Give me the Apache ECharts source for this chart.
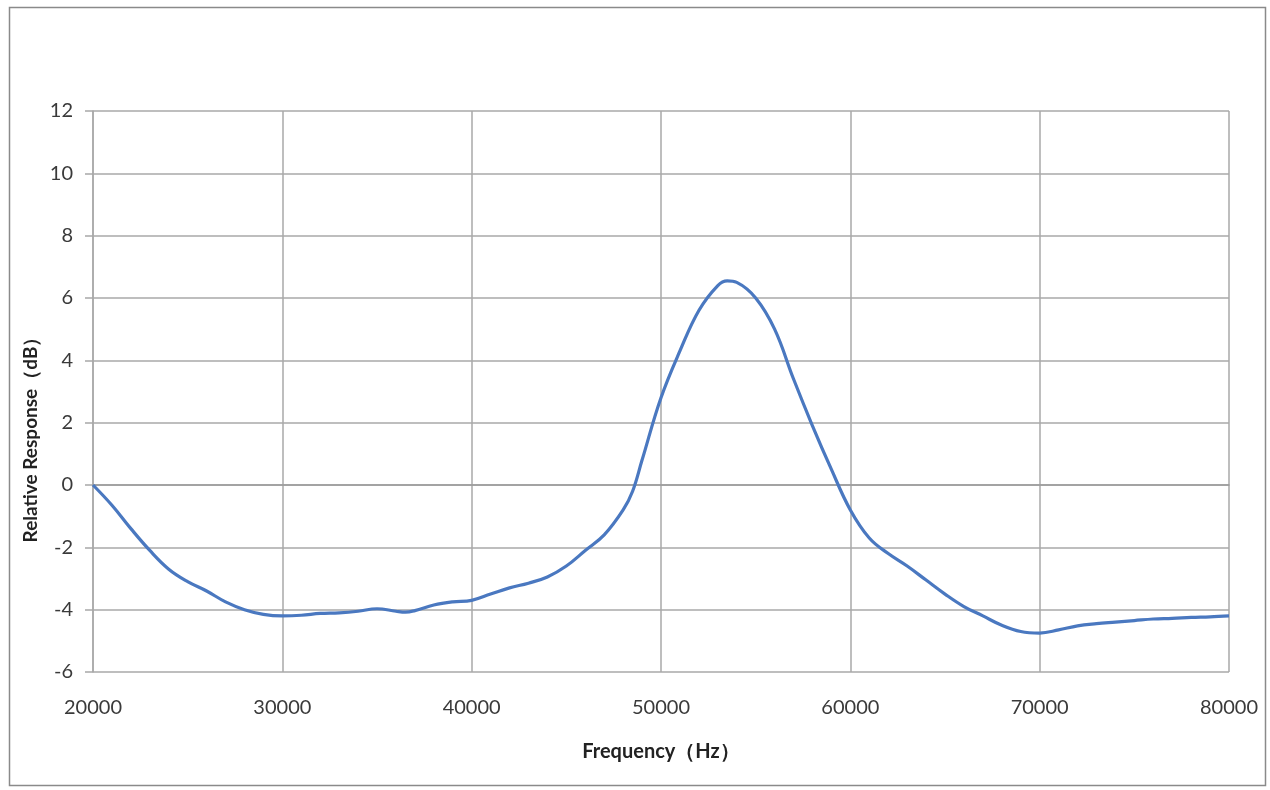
<!DOCTYPE html>
<html>
<head>
<meta charset="utf-8">
<script src="https://cdn.jsdelivr.net/npm/echarts@6/dist/echarts.min.js"></script>
<style>html,body{margin:0;padding:0;background:#fff;}#c{width:1270px;height:790px;}</style>
</head>
<body>
<div id="c"></div>
<script>
const frequency = [20000,21000,22000,23000,24000,25000,26000,27000,28000,29000,30000,31000,32000,33000,34000,35000,36000,36500,37000,38000,39000,40000,41000,42000,43000,44000,45000,46000,47000,48000,48500,49000,50000,51000,52000,53000,53500,54000,55000,56000,57000,58000,59000,60000,61000,62000,63000,64000,65000,66000,67000,68000,69000,70000,71000,72000,73000,74000,75000,76000,77000,78000,79000,80000];
const response = [0,-0.65,-1.4,-2.1,-2.7,-3.1,-3.4,-3.75,-4.0,-4.15,-4.2,-4.18,-4.12,-4.1,-4.05,-3.97,-4.05,-4.08,-4.03,-3.85,-3.75,-3.7,-3.5,-3.3,-3.15,-2.95,-2.6,-2.1,-1.6,-0.8,-0.2,0.8,2.8,4.3,5.6,6.4,6.55,6.5,6.0,5.0,3.4,1.9,0.5,-0.8,-1.7,-2.2,-2.6,-3.05,-3.5,-3.9,-4.2,-4.5,-4.7,-4.75,-4.65,-4.52,-4.45,-4.4,-4.35,-4.3,-4.28,-4.25,-4.23,-4.2];
const xTitle = 'Frequency（Hz）';
const yTitle = 'Relative Response（dB）';

const chart = echarts.init(document.getElementById('c'));
const font = 'Lato, "Open Sans", sans-serif';
chart.setOption({
  animation: false,
  backgroundColor: '#fff',
  grid: {left: 93, right: 41, top: 111, bottom: 118},
  xAxis: {
    type: 'value', min: 20000, max: 80000, interval: 10000,
    name: xTitle, nameLocation: 'middle', nameGap: 70,
    nameTextStyle: {fontFamily: font, fontSize: 20, fontWeight: 'bold', color: '#222'},
    axisLine: {show: true, lineStyle: {color: '#9a9a9a', width: 1.5}},
    axisTick: {show: false},
    axisLabel: {fontFamily: font, fontSize: 20, color: '#3a3a3a', margin: 26, formatter: v => String(v)},
    splitLine: {show: true, lineStyle: {color: '#a8a8a8', width: 1.5}}
  },
  yAxis: {
    type: 'value', min: -6, max: 12, interval: 2,
    axisLine: {show: true, lineStyle: {color: '#a8a8a8', width: 1.5}},
    axisTick: {show: true, length: 8, lineStyle: {color: '#a8a8a8', width: 1.5}},
    axisLabel: {fontFamily: font, fontSize: 20, color: '#3a3a3a', margin: 20},
    splitLine: {show: true, lineStyle: {color: '#a8a8a8', width: 1.5}}
  },
  graphic: [
    {type: 'rect', shape: {x: 9.5, y: 7.5, width: 1256, height: 778}, style: {fill: null, stroke: '#8a8a8a', lineWidth: 1.5}, silent: true},
    {type: 'text', x: 31, y: 435, rotation: Math.PI / 2,
     style: {text: yTitle, fontFamily: font, fontSize: 19, fontWeight: 'bold', fill: '#222', align: 'center', verticalAlign: 'middle'}}
  ],
  series: [{
    type: 'line',
    data: frequency.map((f, i) => [f, response[i]]),
    smooth: 0.4,
    showSymbol: false,
    lineStyle: {color: '#4a78c0', width: 3.2}
  }]
});
</script>
</body>
</html>
